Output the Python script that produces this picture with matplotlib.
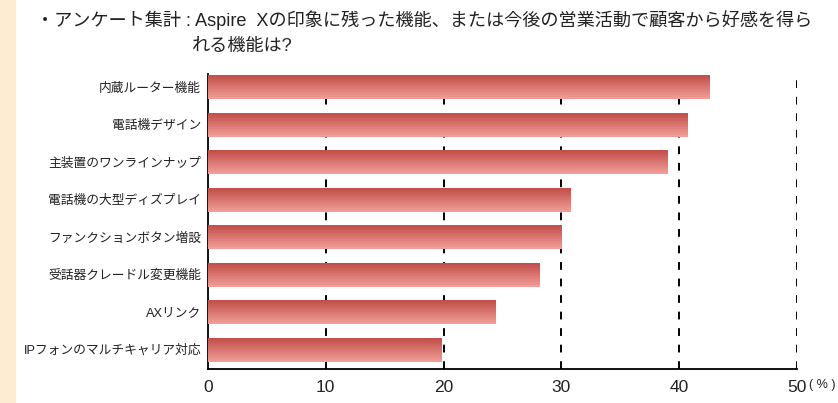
import matplotlib
matplotlib.use("Agg")
import matplotlib.pyplot as plt
import numpy as np
from matplotlib.colors import LinearSegmentedColormap
from matplotlib.patches import Rectangle

plt.rcParams['font.family'] = ['Liberation Sans', 'Noto Sans CJK JP', 'DejaVu Sans']

categories = ["内蔵ルーター機能", "電話機デザイン", "主装置のワンラインナップ",
              "電話機の大型ディズプレイ", "ファンクションボタン増設",
              "受話器クレードル変更機能", "AXリンク", "IPフォンのマルチキャリア対応"]
values = [42.6, 40.7, 39.0, 30.8, 30.0, 28.1, 24.4, 19.8]
xticks = [0, 10, 20, 30, 40, 50]
title1 = "・アンケート集計 : Aspire  Xの印象に残った機能、または今後の営業活動で顧客から好感を得ら"
title2 = "れる機能は?"

fig = plt.figure(figsize=(8.38, 4.03), dpi=100)
fig.patches.append(Rectangle((0, 0), 15/838, 1, transform=fig.transFigure,
                             color='#FDEBD2', zorder=0))

ax = fig.add_axes([208/838, 1-369/403, (797-208)/838, (369-74)/403])
cmap = LinearSegmentedColormap.from_list('g', ['#C4504A', '#F09C98'])
grad = np.linspace(0, 1, 12).reshape(-1, 1)
h = 0.64
for i, v in enumerate(values):
    ax.imshow(grad, cmap=cmap, aspect='auto', interpolation='nearest',
              extent=[0, v, i + h/2, i - h/2], zorder=3)
ax.set_xlim(0, 50)
ax.set_ylim(len(values) - 1 + 0.52, -0.35)
for x in xticks[1:]:
    ax.axvline(x, color='black', lw=1.4, ls=(0, (4, 4.5)), zorder=1)
ax.set_yticks(range(len(categories)))
ax.set_yticklabels(categories, fontsize=9.2, color='#222222')
ax.set_xticks(xticks)
ax.set_xticklabels([str(t) for t in xticks], fontsize=12.5, color='#222222')
ax.tick_params(axis='both', length=0, pad=5)
ax.tick_params(axis='x', pad=8)
for s in ['top', 'right']:
    ax.spines[s].set_visible(False)
ax.spines['left'].set_linewidth(1.3)
ax.spines['bottom'].set_linewidth(1.3)

fig.text(809/838, 1-385/403, "( % )", fontsize=9, va='center', ha='left', color='#222222')
fig.text(36/838, 1-20/403, title1, fontsize=13.1, va='center', ha='left', color='#222222')
fig.text(192/838, 1-46/403, title2, fontsize=13.1, va='center', ha='left', color='#222222')

fig.savefig("out.png", dpi=100)
